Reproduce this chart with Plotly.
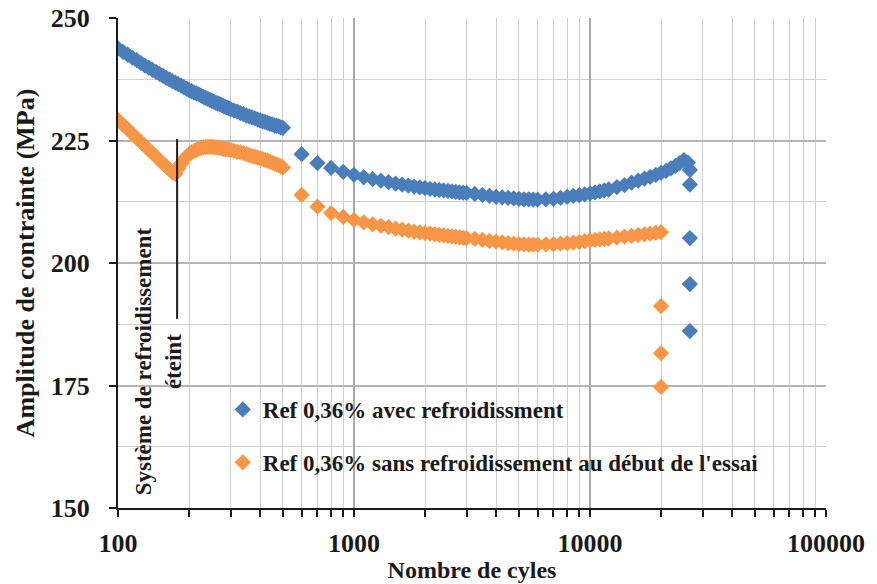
import plotly.graph_objects as go

# cycles 100..500 (every 5 cycles up to 300, then every 10)
cycles_start = list(range(100, 300, 5)) + list(range(300, 501, 10))
# cycles 600..25000 (denser near the start)
cycles_blue = (list(range(600, 3001, 100)) + list(range(3250, 6001, 250))
               + list(range(6500, 12001, 500)) + list(range(13000, 25001, 1000)))
cycles_orange = (list(range(600, 3001, 100)) + list(range(3250, 6001, 250))
                 + list(range(6500, 12001, 500)) + list(range(13000, 20001, 1000)))

blue_start = [243.8, 243.1, 242.5, 241.9, 241.4, 240.8, 240.3, 239.85, 239.4, 239.0,
              238.6, 238.2, 237.8, 237.45, 237.1, 236.8, 236.5, 236.2, 235.9, 235.6,
              235.3, 235.05, 234.8, 234.6, 234.4, 234.15, 233.9, 233.7, 233.5, 233.3,
              233.1, 232.9, 232.7, 232.55, 232.4, 232.2, 232.0, 231.85, 231.7, 231.55,
              231.4, 231.1, 230.9, 230.6, 230.4, 230.1, 229.9, 229.7, 229.5, 229.3,
              229.1, 228.9, 228.8, 228.6, 228.4, 228.3, 228.1, 228.0, 227.9, 227.7, 227.6]
blue_main = [222.2, 220.4, 219.4, 218.6, 218.0, 217.5, 217.1, 216.8, 216.5, 216.2,
             216.0, 215.8, 215.6, 215.45, 215.3, 215.15, 215.0, 214.9, 214.8, 214.7,
             214.6, 214.5, 214.4, 214.35, 214.3,
             214.1, 213.9, 213.7, 213.5, 213.4, 213.3, 213.2, 213.1, 213.0, 213.0, 212.95, 212.95,
             213.0, 213.1, 213.3, 213.5, 213.7, 213.85, 214.0, 214.2, 214.4, 214.6, 214.8, 215.0,
             215.5, 215.9, 216.4, 216.8, 217.2, 217.6, 218.0, 218.4, 218.8, 219.3, 219.8, 220.4, 221.0]
cycles_blue_end = [26000, 26500, 26500, 26500, 26500, 26500]
blue_end = [220.5, 219.0, 216.0, 205.1, 195.7, 186.1]

orange_start = [229.2, 228.2, 227.3, 226.4, 225.5, 224.7, 223.9, 223.1, 222.4, 221.7,
                221.0, 220.3, 219.7, 219.1, 218.5, 218.2, 219.3, 220.3, 221.0, 221.7,
                222.2, 222.6, 222.9, 223.1, 223.3, 223.5, 223.6, 223.65, 223.7, 223.7,
                223.7, 223.65, 223.6, 223.55, 223.5, 223.4, 223.3, 223.25, 223.2, 223.15,
                223.1, 222.9, 222.7, 222.6, 222.4, 222.2, 222.0, 221.8, 221.7, 221.5,
                221.4, 221.2, 221.0, 220.9, 220.7, 220.5, 220.3, 220.1, 219.9, 219.7, 219.5]
orange_main = [213.9, 211.5, 210.2, 209.4, 208.8, 208.3, 207.9, 207.6, 207.3, 207.0,
               206.8, 206.6, 206.4, 206.25, 206.1, 206.0, 205.85, 205.75, 205.65, 205.55,
               205.45, 205.35, 205.25, 205.15, 205.1,
               204.9, 204.7, 204.5, 204.35, 204.2, 204.05, 203.95, 203.85, 203.8, 203.75, 203.75, 203.75,
               203.8, 203.85, 203.95, 204.05, 204.15, 204.3, 204.45, 204.6, 204.7, 204.8, 204.9, 205.0,
               205.2, 205.4, 205.55, 205.7, 205.85, 206.0, 206.15, 206.3]
cycles_orange_end = [20000, 20000, 20000]
orange_end = [191.2, 181.6, 174.7]

# cycle at which the cooling system was switched off
cooling_off_cycle = 178
cooling_off_span = [225.3, 188.6]

name_blue = "Ref 0,36% avec refroidissment"
name_orange = "Ref 0,36% sans refroidissement au début de l'essai"

BLUE = "#4a7ebb"
ORANGE = "#f79646"
INK = "#1a1a1a"
FONT = "Liberation Serif, Times New Roman, serif"

fig = go.Figure()
fig.add_trace(go.Scatter(
    x=cycles_start + cycles_blue + cycles_blue_end,
    y=blue_start + blue_main + blue_end,
    mode="markers", name=name_blue, legendgroup="a",
    marker=dict(symbol="diamond", size=12.5, color=BLUE),
))
fig.add_trace(go.Scatter(
    x=cycles_start + cycles_orange + cycles_orange_end,
    y=orange_start + orange_main + orange_end,
    mode="markers", name=name_orange, legendgroup="b",
    marker=dict(symbol="diamond", size=12.5, color=ORANGE),
))

# cooling switched off marker
fig.add_trace(go.Scatter(
    x=[cooling_off_cycle, cooling_off_cycle], y=cooling_off_span,
    mode="lines", line=dict(color=INK, width=2), showlegend=False, hoverinfo="skip",
))
fig.add_annotation(
    text="Système de refroidissement<br>éteint", textangle=-90,
    xref="paper", yref="paper", x=0.057, y=0.30, xanchor="center", yanchor="middle",
    showarrow=False,
    font=dict(family=FONT, size=23, color=INK, weight="bold"),
)

fig.update_layout(
    width=877, height=584,
    margin=dict(l=118, r=51, t=18, b=76),
    paper_bgcolor="white", plot_bgcolor="white",
    font=dict(family=FONT, size=26, color=INK, weight="bold"),
    legend=dict(
        x=0.148, y=0.245, xanchor="left", yanchor="top",
        bgcolor="rgba(0,0,0,0)", traceorder="grouped", tracegroupgap=20,
        font=dict(family=FONT, size=23, color=INK, weight="bold"),
        itemwidth=30,
    ),
)
fig.update_xaxes(
    type="log", range=[2, 5], dtick=1, tickformat="d", automargin=False,
    showline=True, linecolor=INK, linewidth=2,
    ticks="outside", ticklen=7, tickwidth=2, tickcolor=INK,
    ticklabelstandoff=4,
    showgrid=True, gridcolor="#a8a8a8", gridwidth=1.5,
    minor=dict(dtick="D1", ticks="outside", ticklen=7, tickwidth=1.5, tickcolor=INK,
               showgrid=True, gridcolor="#cfcfcf", gridwidth=1),
    title=dict(text="Nombre de cyles", font=dict(size=24), standoff=4),
    zeroline=False,
)
fig.update_yaxes(
    range=[150, 250], dtick=25, automargin=False,
    showline=True, linecolor=INK, linewidth=2,
    ticks="outside", ticklen=7, tickwidth=2, tickcolor=INK,
    ticklabelstandoff=14, ticklabeloverflow="allow",
    showgrid=True, gridcolor="#b5b5b5", gridwidth=1.5,
    minor=dict(dtick=12.5, showgrid=True, gridcolor="#cfcfcf", gridwidth=1),
    title=dict(text="Amplitude de contrainte (MPa)", font=dict(size=26), standoff=9),
    zeroline=False,
)

# drop the browser's default body margin so the figure sits at the window's corner
fig.write_html("out.html", config={"displayModeBar": False},
               post_script="document.body.style.margin = '0';")
